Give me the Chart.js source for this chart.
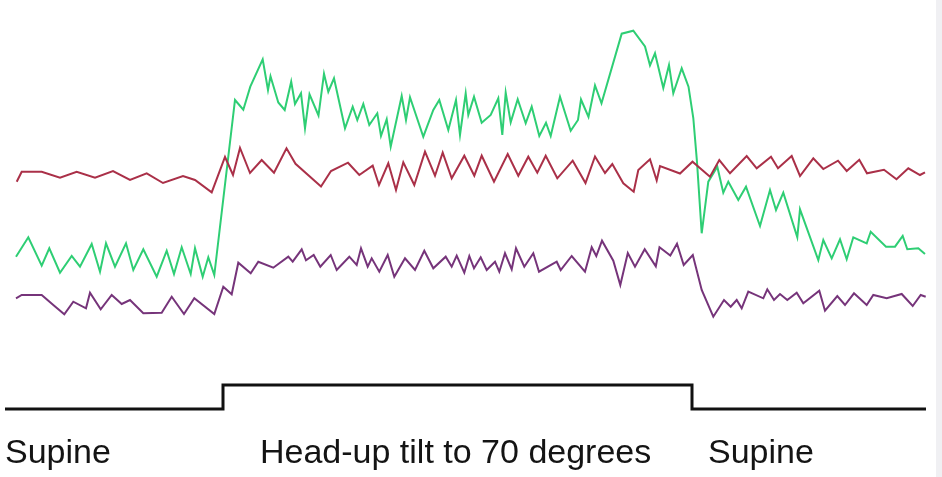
<!DOCTYPE html>
<html>
<head>
<meta charset="utf-8">
<title>Head-up tilt recording</title>
<script src="https://cdn.jsdelivr.net/npm/chart.js@4.4.1/dist/chart.umd.min.js"></script>
<style>
  html, body { margin: 0; padding: 0; background: #fff; }
  #wrap { position: relative; width: 942px; height: 477px; }
  #edge { position: absolute; left: 936px; top: 0; width: 6px; height: 477px; background: #f0f0f3; }
  canvas { position: absolute; left: 0; top: 0; }
</style>
</head>
<body>
<div id="wrap">
  <canvas id="chart" width="942" height="477"></canvas>
  <div id="edge"></div>
</div>
<script>
// Recording traces (time units, trace deflection; larger deflection = lower on screen)
const redX = [16.7,21.7,41.7,60,76.7,95,113,130,146.7,163,183,195,211.7,225,233,240,250,261.7,274,286.5,295.5,321,331,348,359.3,372.7,379,388.3,396,403.3,414.3,425,435,442.7,451.7,464.3,474.3,481.7,494,507.7,518.3,528.3,537.3,545.7,557.3,572.7,585.5,595,605,612.3,623.3,633.7,638.3,650,656.7,660,680,692.5,710,719.3,730,746.7,756.7,771,778,791.7,800,813.3,823.3,838,846.7,859.3,867,884,896.5,908.3,920,925];
const redY = [181.7,171.7,171.7,177.7,171.7,177.7,171,180,173.3,183,176,180,192.3,157,175,148,173,160,172.7,148.3,163.8,186.5,171,162.7,175,165.7,185,163.3,190,162.3,185,151.7,175.7,152.7,178.3,155.7,175.7,155.7,181.7,154,175.7,156.7,172.7,155.7,178.3,160.7,183,156.5,173,164,183.3,191.7,170,159.3,180.5,166,173.5,161.7,176.7,160,173.3,156,168.3,156.7,168.3,156,176,158.3,169,160.7,171,159.7,173.3,169.7,179.2,168.3,175,172.3];

const greenX = [16,28.3,41.7,49.3,60,71.7,80,91.7,100,106,115,126,133.3,143.3,156.7,166.7,174,181.7,190.7,195,202.7,208.3,214.3,235,243.3,250.3,262.7,268,270.5,278.3,284.7,291.2,295,301,305,309.5,318.5,324,328.3,334,345,352.7,357.3,363.3,369.3,377.3,381,386.7,390.7,401.7,406,410,423.3,433.3,439.3,448.3,456,460,465.7,468.3,474,481.7,490.7,498.3,502.3,505.7,510.7,517.7,525.7,531.7,539.3,546,550.7,560,570.7,578,581,588.5,595,601.5,621.7,633.3,645,650,655,663.3,669,673.3,681.7,688.5,693.3,697,701.7,708.3,717.3,723.3,728.3,738.3,746,760,770,776,783.3,797.3,800,818.3,823.3,831.7,840,846.7,853.3,866.7,870.7,886,895,902.7,907.3,918.3,925];
const greenY = [256.7,237.3,265.7,248.3,272.7,256,266.7,244,271.7,243.3,266.7,243.3,270,249.3,276.7,250.7,274,247.3,274,248.3,276.7,257.3,275,100,109.7,86.7,59.3,90,76.3,102.5,110,81.7,104,93.3,128.3,94.3,115.5,73.7,91.7,78.3,128.3,106.7,120,104,125,113.3,136,119.3,146.7,96,120,97.3,136.7,110,100,130,100,135,93.3,115,96.7,122.7,115,98.3,135,92.7,122.3,99.3,123.3,106.7,136,122.7,136,96.7,130.7,120,99.5,117,85.5,103.3,33.7,30.7,46.5,65.3,53.3,88,65,93.3,68.3,86.7,118,162,233.3,181.7,166.7,192.7,181.7,200,186.7,226,190,210,192.7,237.3,209.3,260,240,258.3,239.3,259.3,237.3,243.3,231.7,246.7,246.7,236,249.3,248.3,254];

const purpleX = [16,21.7,41.7,53.3,64.3,73.3,86,90,100.7,111.7,121.7,130,143.3,161.7,171.7,184,194.3,214.3,223.3,231.7,238.3,250.7,258.3,273.3,288.3,292.7,301.7,306,313.7,320.3,330.7,336.7,349.3,356.7,361,367.7,371.7,379.3,387.7,394.3,405,415,424.3,433.3,445.7,451.7,456.7,464.3,469.3,474,480.7,486.7,495,499.3,505,511.7,516,524.3,533.3,539,556.7,560.7,571.7,585,591.7,596.3,602,613.3,620.3,627.8,635,644.7,655.8,659.5,670.3,677,683.7,692.8,701.7,713.3,724,730.7,736.7,741.7,748.3,763.3,767.3,774,780,787.3,796.7,803.3,819.3,825,837.3,845,854,866.7,873.3,886.7,901.7,912.7,920.7,925.7];
const purpleY = [298.3,295,295,305,314.3,301.7,308.3,292.7,309.3,295,304,300,313.3,312.7,296.7,314,298.3,314,286.7,294.3,262.7,273.3,261.7,267.7,256.7,261.7,249.3,260.3,255,266.7,255,270,256.7,265,248.3,266.7,258.3,271.7,255,276.7,258.3,270,250.7,268.3,256.7,266.7,255.7,272.7,256,268.3,257.3,270,261.7,271.7,253.3,269.3,248.3,266.7,253.3,271.7,261.7,270,256,271.7,247.3,256,240.7,260.7,285,253,266.7,249.3,266.3,247.3,255.5,243.7,265,255,290,316.7,300,306.7,300,308.3,291.7,298.3,289.3,300,294,300,292.7,303.3,290.7,310.7,296,305,293.3,305,295,298.3,294,306,295,296.7];

// Tilt table position: supine / head-up / supine
const tiltX = [5,223,223,692,692,926];
const tiltY = [409,409,385,385,409,409];

// Phase labels under the tilt trace
const phaseLabels = ['Supine', 'Head-up tilt to 70 degrees', 'Supine'];
const phaseLabelX = [5, 260, 708];
const phaseLabelY = 463;

function pts(xs, ys) {
    return xs.map((x, i) => ({ x: x, y: ys[i] }));
}

const phaseLabelPlugin = {
    id: 'phaseLabels',
    afterDatasetsDraw(chart) {
        const ctx = chart.ctx;
        const xs = chart.scales.x;
        const ys = chart.scales.y;
        ctx.save();
        ctx.font = '34px "Liberation Sans", Arial, sans-serif';
        ctx.fillStyle = '#141414';
        ctx.textBaseline = 'alphabetic';
        ctx.textAlign = 'left';
        phaseLabels.forEach((label, i) => {
            ctx.fillText(label, xs.getPixelForValue(phaseLabelX[i]), ys.getPixelForValue(phaseLabelY));
        });
        ctx.restore();
    }
};

const lineStyle = { borderWidth: 2, pointRadius: 0, tension: 0, fill: false };

new Chart(document.getElementById('chart').getContext('2d'), {
    type: 'line',
    data: {
        datasets: [
            Object.assign({ label: 'Red trace', data: pts(redX, redY), borderColor: 'rgb(170,48,72)' }, lineStyle),
            Object.assign({ label: 'Green trace', data: pts(greenX, greenY), borderColor: 'rgb(46,206,116)' }, lineStyle),
            Object.assign({ label: 'Purple trace', data: pts(purpleX, purpleY), borderColor: 'rgb(118,52,122)' }, lineStyle),
            { label: 'Tilt', data: pts(tiltX, tiltY), borderColor: '#111', borderWidth: 3, pointRadius: 0, tension: 0, fill: false, borderJoinStyle: 'miter' }
        ]
    },
    options: {
        responsive: false,
        maintainAspectRatio: false,
        animation: false,
        layout: { padding: 0 },
        plugins: { legend: { display: false }, tooltip: { enabled: false } },
        scales: {
            x: { type: 'linear', min: 0, max: 942, display: false },
            y: { type: 'linear', min: 0, max: 477, reverse: true, display: false }
        }
    },
    plugins: [phaseLabelPlugin]
});
</script>
</body>
</html>
